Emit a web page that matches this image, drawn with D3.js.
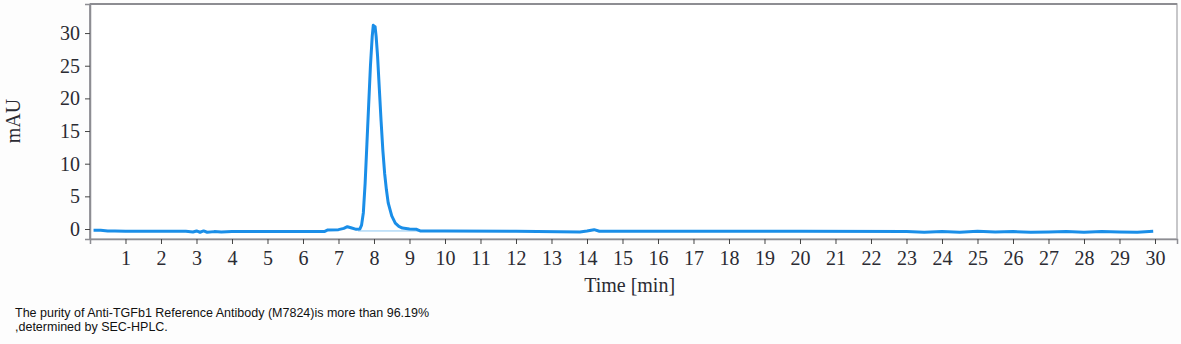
<!DOCTYPE html>
<html>
<head>
<meta charset="utf-8">
<script src="https://cdn.jsdelivr.net/npm/d3@7"></script>
<style>
  body { margin: 0; background: #fdfdfd; }
  svg { display: block; }
</style>
</head>
<body>
<div id="chart"></div>
<script>
// chromatogram trace (time in min, signal in mAU)
const times = [0.1, 0.3, 0.5, 0.7, 1.0, 2.0, 2.7, 2.9, 3.0, 3.1, 3.2, 3.3, 3.5, 3.7, 4.0, 5.0, 6.0, 6.6,
  6.7, 7.0, 7.15, 7.25, 7.35, 7.5, 7.6, 7.65, 7.7, 7.75, 7.8, 7.85, 7.9, 7.95, 7.98, 8.0, 8.03, 8.06, 8.1,
  8.15, 8.2, 8.25, 8.3, 8.35, 8.4, 8.5, 8.6, 8.7, 8.8, 9.0, 9.2, 9.3, 10, 12, 13.8, 14.0, 14.2, 14.35, 16,
  20, 23, 23.5, 24, 24.5, 25, 25.5, 26, 26.5, 27, 27.5, 28, 28.5, 29, 29.5, 29.95];
const mAU = [-0.2, -0.2, -0.3, -0.3, -0.35, -0.35, -0.35, -0.45, -0.3, -0.5, -0.3, -0.5, -0.4, -0.45, -0.4, -0.4, -0.4, -0.4,
  -0.15, -0.1, 0.1, 0.35, 0.2, -0.05, 0.0, 0.6, 2.5, 7, 13, 19, 25, 29.5, 31.2, 30.6, 31.0, 29.5, 26.5,
  21.5, 16.5, 12, 8.5, 6, 4, 2, 0.9, 0.4, 0.15, 0.0, -0.05, -0.3, -0.3, -0.35, -0.45, -0.3, -0.1, -0.35, -0.35,
  -0.35, -0.4, -0.5, -0.4, -0.5, -0.35, -0.45, -0.4, -0.5, -0.45, -0.4, -0.5, -0.4, -0.45, -0.5, -0.35];

// integration baseline under the main peak
const baseTimes = [7.55, 9.25];
const baseMAU = [-0.3, -0.3];

const xTicks = d3.range(1, 31);
const yTicks = [0, 5, 10, 15, 20, 25, 30];

const caption = [
  "The purity of Anti-TGFb1 Reference Antibody (M7824)is more than 96.19%",
  ",determined by SEC-HPLC."
];

const width = 1181, height = 344;
const margin = { left: 90, right: 4, top: 4, bottom: 105 };
const serif = "'Liberation Serif', 'DejaVu Serif', serif";

const svg = d3.select("#chart")
  .append("svg")
  .attr("width", width)
  .attr("height", height);

const x = d3.scaleLinear()
  .domain([0, 30.62])
  .range([margin.left, width - margin.right]);

const y = d3.scaleLinear()
  .domain([-1.53, 34.45])
  .range([height - margin.bottom, margin.top]);

// plot frame
svg.append("rect")
  .attr("x", x.range()[0])
  .attr("y", y.range()[1])
  .attr("width", x.range()[1] - x.range()[0])
  .attr("height", y.range()[0] - y.range()[1])
  .attr("fill", "#ffffff")
  .attr("stroke", "#b5b5b8")
  .attr("stroke-width", 1.5);
svg.append("line")
  .attr("x1", x.range()[0]).attr("x2", x.range()[1])
  .attr("y1", y.range()[1]).attr("y2", y.range()[1])
  .attr("stroke", "#8d8d92").attr("stroke-width", 2);
svg.append("line")
  .attr("x1", x.range()[0]).attr("x2", x.range()[0])
  .attr("y1", y.range()[1]).attr("y2", y.range()[0])
  .attr("stroke", "#8d8d92").attr("stroke-width", 1.5);

// axes
const xAxis = svg.append("g")
  .attr("transform", "translate(0," + y.range()[0] + ")")
  .call(d3.axisBottom(x).tickValues(xTicks).tickSize(5).tickPadding(7).tickFormat(d3.format("d")));

const yAxis = svg.append("g")
  .attr("transform", "translate(" + x.range()[0] + ",0)")
  .call(d3.axisLeft(y).tickValues(yTicks).tickSize(5).tickPadding(5));

[xAxis, yAxis].forEach(function (g) {
  g.select(".domain").attr("stroke", "#8d8d92").attr("stroke-width", 1.5);
  g.selectAll(".tick line").attr("stroke", "#444");
  g.selectAll(".tick text")
    .attr("fill", "#2b2b33")
    .style("font-family", serif)
    .style("font-size", "20px");
});

// axis titles
svg.append("text")
  .attr("x", x(15.2))
  .attr("y", 292)
  .attr("text-anchor", "middle")
  .attr("fill", "#2b2b33")
  .style("font-family", serif)
  .style("font-size", "20px")
  .text("Time [min]");

svg.append("text")
  .attr("transform", "translate(20," + 121 + ") rotate(-90)")
  .attr("text-anchor", "middle")
  .attr("fill", "#2b2b33")
  .style("font-family", serif)
  .style("font-size", "20px")
  .text("mAU");

// trace
const trace = times.map((t, i) => [t, mAU[i]]);
const base = baseTimes.map((t, i) => [t, baseMAU[i]]);

const line = d3.line()
  .x(d => x(d[0]))
  .y(d => y(d[1]));

svg.append("path")
  .datum(base)
  .attr("d", line)
  .attr("fill", "none")
  .attr("stroke", "#8cc6f2")
  .attr("stroke-width", 1);

svg.append("path")
  .datum(trace)
  .attr("d", line)
  .attr("fill", "none")
  .attr("stroke", "#1a8ee8")
  .attr("stroke-width", 3)
  .attr("stroke-linejoin", "round");

// caption
svg.selectAll(".caption")
  .data(caption)
  .enter()
  .append("text")
  .attr("class", "caption")
  .attr("x", 15)
  .attr("y", (d, i) => 317 + i * 14)
  .attr("fill", "#111")
  .style("font-family", "'Liberation Sans', 'Noto Sans', sans-serif")
  .style("font-size", "12.5px")
  .text(d => d);
</script>
</body>
</html>
